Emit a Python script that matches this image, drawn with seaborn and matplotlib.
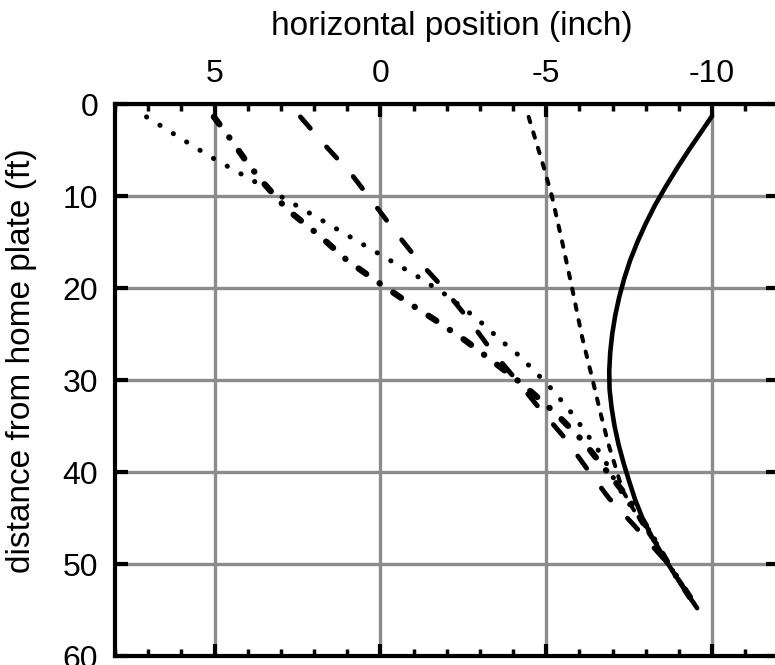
import matplotlib
matplotlib.use("Agg")
import matplotlib.pyplot as plt
from matplotlib.ticker import MultipleLocator, NullLocator
import seaborn as sns

# ---- data (horizontal position in inches vs distance from home plate in ft) ----
solid_ft = [1.3, 3.0, 5.0, 7.0, 9.0, 11.0, 13.0, 15.0, 17.0, 19.0, 21.0, 23.0, 25.0, 27.0, 29.0,
            31.0, 33.0, 35.0, 37.0, 39.0, 41.0, 43.0, 45.0, 47.0, 49.0, 51.0, 53.0, 54.8]
solid_in = [-10.0, -9.68, -9.3, -8.94, -8.6, -8.28, -8.0, -7.75, -7.53, -7.35, -7.2, -7.08, -6.99,
            -6.93, -6.9, -6.91, -6.97, -7.06, -7.18, -7.33, -7.5, -7.68, -7.9, -8.18, -8.5, -8.85,
            -9.21, -9.55]

shortdash_ft = [1.4, 6.8, 10.0, 14.8, 20.0, 25.3, 30.0, 33.5, 36.9, 39.0, 42.0, 44.5, 47.0, 50.0, 54.8]
shortdash_in = [-4.47, -4.92, -5.17, -5.47, -5.78, -6.08, -6.4, -6.63, -6.87, -7.05, -7.3, -7.7, -8.15, -8.68, -9.55]

longdash_ft = [1.4, 4.4, 7.5, 10.7, 13.8, 17.1, 20.0, 23.5, 26.7, 30.0, 33.1, 36.3, 39.5, 42.8, 46.0, 47.4, 50.0, 54.8]
longdash_in = [2.41, 1.69, 0.9, 0.22, -0.43, -1.16, -1.9, -2.68, -3.33, -4.1, -4.8, -5.56, -6.2, -6.88, -7.7, -8.04, -8.68, -9.55]

dashdot_ft = [1.4, 3.4, 6.6, 8.6, 11.5, 14.2, 17.0, 19.3, 21.5, 23.5, 25.7, 28.0, 30.5, 33.6, 36.6, 39.8, 42.5, 46.0, 50.0, 54.8]
dashdot_in = [5.02, 4.6, 3.97, 3.52, 2.8, 1.87, 1.0, 0.1, -0.8, -1.66, -2.56, -3.4, -4.3, -5.28, -6.1, -6.8, -7.4, -8.04, -8.68, -9.55]

dotted_ft = [1.4, 5.7, 9.3, 13.0, 16.8, 18.7, 20.8, 23.3, 25.9, 27.4, 29.0, 30.6, 32.2, 33.7, 35.5, 37.0, 38.6, 41.4, 44.0, 46.0, 50.0, 54.8]
dotted_in = [7.05, 5.14, 3.36, 1.59, -0.2, -1.1, -2.0, -2.9, -3.7, -4.2, -4.64, -5.07, -5.45, -5.79, -6.15, -6.45, -6.75, -7.13, -7.6, -8.04, -8.68, -9.55]

x_ticks = [5, 0, -5, -10]
y_ticks = [0, 10, 20, 30, 40, 50, 60]
x_label = "horizontal position (inch)"
y_label = "distance from home plate (ft)"

sns.set_theme(style="white")
plt.rcParams["font.family"] = ["Liberation Sans", "DejaVu Sans"]
plt.rcParams["text.color"] = "black"
plt.rcParams["axes.labelcolor"] = "black"
plt.rcParams["xtick.color"] = "black"
plt.rcParams["ytick.color"] = "black"

fig = plt.figure(figsize=(7.75, 6.65), dpi=100)
ax = fig.add_axes([115 / 775, 9 / 665, 663.4 / 775, 552 / 665])

series = [
    (solid_in, solid_ft, "-", 3.3),
    (shortdash_in, shortdash_ft, (0, (1.4, 2.6)), 2.9),
    (longdash_in, longdash_ft, (0, (3.1, 5.1)), 3.5),
    (dashdot_in, dashdot_ft, (0, (1.5, 2.6, 0.05, 2.6)), 4.5),
    (dotted_in, dotted_ft, (0, (0.05, 3.1)), 3.6),
]
for xs, ys, ls, lw in series:
    sns.lineplot(x=xs, y=ys, ax=ax, color="black", linewidth=lw, linestyle=ls,
                 estimator=None, sort=False, dash_capstyle="round",
                 solid_capstyle="round", solid_joinstyle="round", zorder=3)

ax.set_xlim(8, -12)
ax.set_ylim(60, 0)
ax.set_xticks(x_ticks)
ax.set_xticklabels([str(v) for v in x_ticks])
ax.set_yticks(y_ticks)
ax.xaxis.set_minor_locator(MultipleLocator(1))
ax.yaxis.set_minor_locator(NullLocator())

ax.grid(True, which="major", color="#8c8c8c", linewidth=2.4, linestyle="-", zorder=1)
ax.set_axisbelow(True)

for side in ["left", "top", "bottom", "right"]:
    ax.spines[side].set_visible(True)
    ax.spines[side].set_color("black")
    ax.spines[side].set_linewidth(3)

ax.tick_params(which="both", direction="in", top=True, bottom=True, left=True, right=True,
               labeltop=True, labelbottom=False, color="black", labelcolor="black")
ax.tick_params(axis="x", which="major", length=9, width=3, pad=11, labelsize=23)
ax.tick_params(axis="x", which="minor", length=5, width=2.5)
ax.tick_params(axis="y", which="major", length=9, width=3, pad=12, labelsize=23)

ax.xaxis.set_label_position("top")
ax.set_xlabel(x_label, fontsize=24)
ax.set_ylabel(y_label, fontsize=24)
ax.xaxis.set_label_coords(0.508, 1.125)
ax.yaxis.set_label_coords(-0.118, 0.536)

fig.savefig("out.png", dpi=100)
